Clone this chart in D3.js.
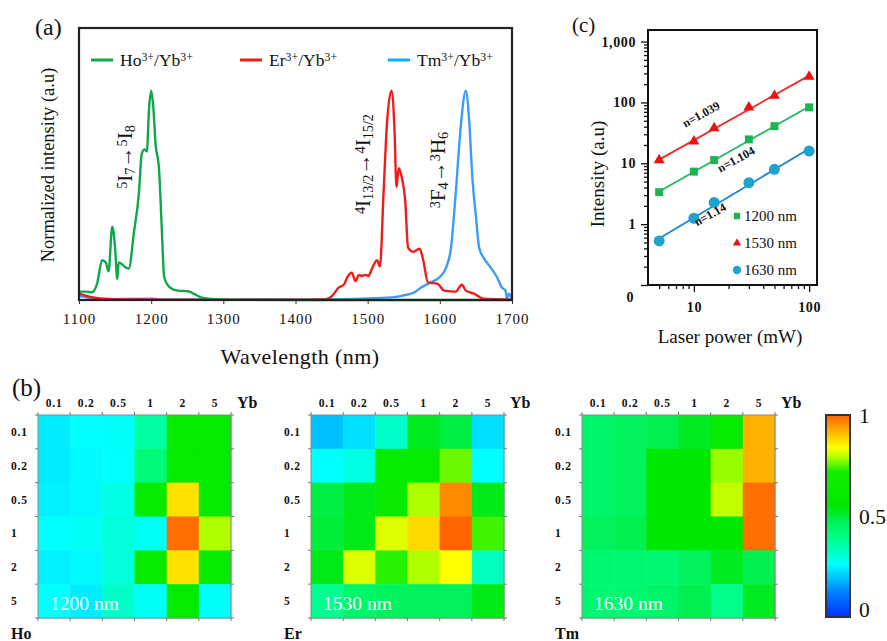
<!DOCTYPE html>
<html>
<head>
<meta charset="utf-8">
<script src="https://cdn.jsdelivr.net/npm/d3@7"></script>
<style>
  body { margin: 0; background: #fff; }
  svg text { font-family: "Liberation Serif", "DejaVu Serif", serif; fill: #111; }
</style>
</head>
<body>
<svg width="887" height="641"></svg>
<script>
"use strict";
var FONT = '"Liberation Serif", "DejaVu Serif", serif';
// ---- data: (a) spectra, [wavelength nm, normalized intensity]
var wlTicks = [1100, 1200, 1300, 1400, 1500, 1600, 1700];
var hoSpectrum = [[1100,0.04],[1110,0.04],[1118,0.037],[1125,0.077],[1132,0.19],[1137,0.18],[1141,0.137],
  [1146,0.35],[1150,0.25],[1153,0.10],[1155,0.18],[1160,0.17],[1164,0.156],[1169,0.15],[1176,0.32],
  [1183,0.51],[1187,0.70],[1191,0.72],[1194,0.71],[1197,0.91],[1200,1.0],[1203,0.92],[1206,0.75],
  [1211,0.62],[1214.6,0.35],[1218,0.11],[1226,0.06],[1237,0.045],[1251,0.042],[1258,0.032],
  [1269,0.013],[1283,0.005],[1301,0.001],[1400,0],[1500,0],[1600,0],[1700,0]];
var erSpectrum = [[1100,0.03],[1115,0.015],[1130,0.007],[1150,0.003],[1200,0.002],[1300,0.001],[1400,0.001],
  [1442,0.004],[1451,0.02],[1460,0.06],[1467,0.073],[1472,0.11],[1478,0.13],[1483,0.09],[1488,0.12],
  [1492,0.115],[1497,0.12],[1501,0.115],[1506,0.15],[1513,0.19],[1517,0.16],[1522,0.51],[1526.5,0.83],
  [1533,1.0],[1537,0.83],[1540,0.54],[1543,0.63],[1547,0.59],[1552,0.475],[1556,0.25],[1563,0.23],
  [1572,0.245],[1577,0.19],[1583.5,0.084],[1597,0.077],[1606,0.045],[1622,0.04],[1630.5,0.073],
  [1636,0.045],[1647.5,0.03],[1661,0.006],[1700,0.002]];
var tmSpectrum = [[1100,0.02],[1115,0.01],[1130,0.004],[1200,0.006],[1210,0.003],[1300,0.002],[1442,0.003],
  [1520,0.01],[1547,0.02],[1565,0.037],[1574,0.06],[1588,0.085],[1600,0.11],[1609,0.157],[1615.5,0.25],
  [1622,0.51],[1629,0.83],[1636,1.0],[1640.6,0.86],[1645,0.59],[1650,0.40],[1654.5,0.25],[1661,0.2],
  [1670,0.157],[1679,0.11],[1686,0.06],[1691,0.045],[1693,0.005],[1695.5,0.03],[1700,0.0]];

// ---- data: (c) power dependence
var powers = [5, 10, 15, 30, 50, 100];
var int1200 = [3.35, 7.3, 11.3, 24.7, 40.8, 83];
var int1530 = [11.3, 23, 38, 83, 129, 267];
var int1630 = [0.53, 1.25, 2.27, 4.8, 7.96, 15.9];
var slopeLabels = ['n=1.104', 'n=1.039', 'n=1.14'];

// ---- data: (b) normalized intensity maps, rows = host ion %, cols = Yb %
var concLabels = ['0.1', '0.2', '0.5', '1', '2', '5'];
var hoMap = [
  [0.24, 0.26, 0.265, 0.36, 0.60, 0.60],
  [0.24, 0.255, 0.26, 0.42, 0.60, 0.60],
  [0.245, 0.255, 0.29, 0.60, 0.87, 0.60],
  [0.26, 0.27, 0.30, 0.27, 0.99, 0.79],
  [0.245, 0.255, 0.30, 0.60, 0.87, 0.60],
  [0.26, 0.24, 0.32, 0.27, 0.60, 0.265]];
var erMap = [
  [0.19, 0.225, 0.32, 0.52, 0.49, 0.225],
  [0.26, 0.29, 0.60, 0.60, 0.76, 0.26],
  [0.49, 0.53, 0.62, 0.79, 0.96, 0.53],
  [0.50, 0.53, 0.82, 0.88, 1.00, 0.74],
  [0.53, 0.82, 0.73, 0.79, 0.84, 0.33],
  [0.38, 0.44, 0.46, 0.46, 0.46, 0.53]];
var tmMap = [
  [0.44, 0.46, 0.48, 0.52, 0.60, 0.92],
  [0.44, 0.46, 0.55, 0.55, 0.78, 0.92],
  [0.44, 0.46, 0.55, 0.55, 0.80, 0.99],
  [0.46, 0.48, 0.55, 0.55, 0.55, 0.99],
  [0.43, 0.43, 0.43, 0.46, 0.52, 0.48],
  [0.43, 0.43, 0.44, 0.48, 0.39, 0.52]];
var cbTicks = [0, 0.5, 1];
var cStops = [0, 0.12, 0.26, 0.38, 0.48, 0.55, 0.72, 0.79, 0.84, 0.92, 1];
var cColors = ['#0030ff', '#0080ff', '#00ffff', '#00ff90', '#00f050', '#00e800', '#10ee00',
  '#b0ff00', '#ffff00', '#ffb000', '#ff6400'];

var svg = d3.select('svg');

// rich text helper: parts = [[text, 'sup'|'sub'|null], ...]
function rich(sel, parts) {
  parts.forEach(function (p) {
    var t = sel.append('tspan').text(p[0]);
    if (p[1]) {
      t.attr('baseline-shift', p[1] === 'sup' ? '38%' : '-22%')
        .attr('font-size', '68%');
    }
  });
  return sel;
}

// ================= (a) =================
var xA = d3.scaleLinear().domain([1100, 1700]).range([79, 512]);
var yA = d3.scaleLinear().domain([0, 1.3]).range([300, 28]);
var gA = svg.append('g');

gA.append('g')
  .attr('transform', 'translate(0,300)')
  .call(d3.axisBottom(xA).tickValues(wlTicks).tickSize(4).tickPadding(9).tickFormat(d3.format('d')))
  .call(function (g) {
    g.attr('font-family', FONT);
    g.select('.domain').remove();
    g.selectAll('text').attr('font-size', 15).attr('letter-spacing', 1).attr('fill', '#111');
    g.selectAll('line').attr('stroke', '#333');
  });

var lineA = d3.line().x(function (d) { return xA(d[0]); }).y(function (d) { return yA(d[1]); })
  .curve(d3.curveMonotoneX);
var spectra = [
  { name: 'Tm', data: tmSpectrum, color: '#3d9cf5' },
  { name: 'Er', data: erSpectrum, color: '#ee1c1c' },
  { name: 'Ho', data: hoSpectrum, color: '#10a64a' }
];
gA.selectAll('path.spec').data(spectra).enter().append('path')
  .attr('class', 'spec')
  .attr('d', function (d) { return lineA(d.data); })
  .attr('fill', 'none')
  .attr('stroke', function (d) { return d.color; })
  .attr('stroke-width', 2.4);

gA.append('rect')
  .attr('x', 79).attr('y', 28).attr('width', 433).attr('height', 272)
  .attr('fill', 'none').attr('stroke', '#222').attr('stroke-width', 2.2);

// legend
var legendA = [
  { name: 'Ho', color: '#10a64a', x: 91 },
  { name: 'Er', color: '#ee1c1c', x: 240 },
  { name: 'Tm', color: '#0db0f0', x: 388 }
];
var lg = gA.selectAll('g.leg').data(legendA).enter().append('g')
  .attr('transform', function (d) { return 'translate(' + d.x + ',60)'; });
lg.append('line').attr('x1', 0).attr('x2', 22).attr('stroke', function (d) { return d.color; })
  .attr('stroke-width', 3);
lg.append('text').attr('x', 29).attr('y', 6).attr('font-size', 17.5)
  .each(function (d) {
    rich(d3.select(this), [[d.name, null], ['3+', 'sup'], ['/Yb', null], ['3+', 'sup']]);
  });

// transition labels
var transitions = [
  { x: 132, y: 157, parts: [['5', 'sup'], ['I', null], ['7', 'sub'], ['\u2192', null], ['5', 'sup'], ['I', null], ['8', 'sub']] },
  { x: 370, y: 164, parts: [['4', 'sup'], ['I', null], ['13/2', 'sub'], ['\u2192', null], ['4', 'sup'], ['I', null], ['15/2', 'sub']] },
  { x: 445, y: 170, parts: [['3', 'sup'], ['F', null], ['4', 'sub'], ['\u2192', null], ['3', 'sup'], ['H', null], ['6', 'sub']] }
];
transitions.forEach(function (t) {
  rich(gA.append('text')
    .attr('transform', 'translate(' + t.x + ',' + t.y + ') rotate(-90)')
    .attr('text-anchor', 'middle').attr('font-size', 21), t.parts);
});

gA.append('text').attr('x', 300).attr('y', 364).attr('text-anchor', 'middle')
  .attr('font-size', 22).attr('letter-spacing', 0.4).text('Wavelength (nm)');
gA.append('text').attr('transform', 'translate(54,165) rotate(-90)').attr('text-anchor', 'middle')
  .attr('font-size', 18.5).text('Normalized intensity (a.u)');
gA.append('text').attr('x', 35).attr('y', 35).attr('font-size', 24).text('(a)');

// ================= (c) =================
var xC = d3.scaleLog().domain([4, 117]).range([648, 817]);
var yC = d3.scaleLog().domain([0.1, 1550]).range([285, 30]);
var gC = svg.append('g');

var xMinor = [5, 6, 7, 8, 9, 20, 30, 40, 50, 60, 70, 80, 90];
var yMinor = [];
[0.1, 1, 10, 100].forEach(function (dec) {
  for (var k = 2; k <= 9; k++) yMinor.push(dec * k);
});
function styleAxis(g) {
  g.attr('font-family', FONT);
  g.select('.domain').remove();
  g.selectAll('line').attr('stroke', '#111').attr('stroke-width', 1.3);
  g.selectAll('text').attr('font-size', 14).attr('font-weight', 'bold').attr('fill', '#111')
    .attr('letter-spacing', 0.6);
}
gC.append('g').attr('transform', 'translate(0,285)')
  .call(d3.axisBottom(xC).tickValues(xMinor).tickSize(4).tickFormat(''))
  .call(styleAxis);
gC.append('g').attr('transform', 'translate(0,285)')
  .call(d3.axisBottom(xC).tickValues([10, 100]).tickSize(7).tickPadding(10).tickFormat(d3.format('d')))
  .call(styleAxis);
gC.append('g').attr('transform', 'translate(648,0)')
  .call(d3.axisLeft(yC).tickValues(yMinor).tickSize(4).tickFormat(''))
  .call(styleAxis);
gC.append('g').attr('transform', 'translate(648,0)')
  .call(d3.axisLeft(yC).tickValues([1, 10, 100, 1000]).tickSize(7).tickPadding(5).tickFormat(d3.format(',')))
  .call(styleAxis);
gC.append('g').attr('transform', 'translate(648,0)')
  .call(d3.axisLeft(yC).tickValues([0.1]).tickSize(7).tickFormat(''))
  .call(styleAxis);
gC.append('text').attr('x', xC(4) - 18).attr('y', yC(0.1) + 17).attr('text-anchor', 'middle')
  .attr('font-size', 14).attr('font-weight', 'bold').text('0');

var seriesC = [
  { values: int1200, line: '#1fba5a', fill: '#1db350', shape: d3.symbolSquare, size: 64, label: slopeLabels[0], lab: [738, 163] },
  { values: int1530, line: '#f02a2a', fill: '#ee1111', shape: d3.symbolTriangle, size: 52, label: slopeLabels[1], lab: [703, 118] },
  { values: int1630, line: '#1a84d6', fill: '#1ea3cc', shape: d3.symbolCircle, size: 95, label: slopeLabels[2], lab: [712, 218] }
];
// least-squares fit in log-log space
function fit(vals) {
  var lx = powers.map(Math.log10), ly = vals.map(Math.log10);
  var mx = d3.mean(lx), my = d3.mean(ly);
  var b = d3.sum(lx, function (v, i) { return (v - mx) * (ly[i] - my); }) /
          d3.sum(lx, function (v) { return (v - mx) * (v - mx); });
  return function (p) { return Math.pow(10, my + b * (Math.log10(p) - mx)); };
}
seriesC.forEach(function (s) {
  var f = fit(s.values);
  gC.append('line')
    .attr('x1', xC(powers[0])).attr('y1', yC(f(powers[0])))
    .attr('x2', xC(powers[powers.length - 1])).attr('y2', yC(f(powers[powers.length - 1])))
    .attr('stroke', s.line).attr('stroke-width', 1.8);
  gC.selectAll(null).data(s.values).enter().append('path')
    .attr('d', d3.symbol().type(s.shape).size(s.size))
    .attr('transform', function (d, i) { return 'translate(' + xC(powers[i]) + ',' + yC(d) + ')'; })
    .attr('fill', s.fill);
  gC.append('text')
    .attr('transform', 'translate(' + s.lab[0] + ',' + s.lab[1] + ') rotate(-29)')
    .attr('text-anchor', 'middle').attr('font-size', 12).attr('font-weight', 'bold').attr('fill', '#333')
    .text(s.label);
});

gC.append('rect')
  .attr('x', 648).attr('y', 30).attr('width', 169).attr('height', 255)
  .attr('fill', 'none').attr('stroke', '#111').attr('stroke-width', 2);

var legendC = [
  { text: '1200 nm', fill: '#1db350', shape: d3.symbolSquare, size: 40 },
  { text: '1530 nm', fill: '#ee1111', shape: d3.symbolTriangle, size: 30 },
  { text: '1630 nm', fill: '#1ea3cc', shape: d3.symbolCircle, size: 55 }
];
var lgc = gC.selectAll('g.legc').data(legendC).enter().append('g')
  .attr('transform', function (d, i) { return 'translate(737,' + (216 + i * 27) + ')'; });
lgc.append('path').attr('d', function (d) { return d3.symbol().type(d.shape).size(d.size)(); })
  .attr('fill', function (d) { return d.fill; });
lgc.append('text').attr('x', 7).attr('y', 5).attr('font-size', 15).text(function (d) { return d.text; });

gC.append('text').attr('transform', 'translate(604,174) rotate(-90)').attr('text-anchor', 'middle')
  .attr('font-size', 19).text('Intensity (a.u)');
gC.append('text').attr('x', 730).attr('y', 343).attr('text-anchor', 'middle')
  .attr('font-size', 19).text('Laser power (mW)');
gC.append('text').attr('x', 572).attr('y', 32).attr('font-size', 21).text('(c)');

// ================= (b) =================
var color = d3.scaleLinear().domain(cStops).range(cColors);
var maps = [
  { host: 'Ho', values: hoMap, note: '1200 nm', x0: 38 },
  { host: 'Er', values: erMap, note: '1530 nm', x0: 311 },
  { host: 'Tm', values: tmMap, note: '1630 nm', x0: 582 }
];
var mapW = 193, mapTop = 415, mapBottom = 618;

svg.append('text').attr('x', 12).attr('y', 396).attr('font-size', 25).text('(b)');

maps.forEach(function (m) {
  var xH = d3.scaleBand().domain(concLabels).range([m.x0, m.x0 + mapW]);
  var yH = d3.scaleBand().domain(concLabels).range([mapTop, mapBottom]);
  var g = svg.append('g');
  m.values.forEach(function (row, r) {
    g.selectAll(null).data(row).enter().append('rect')
      .attr('x', function (d, c) { return xH(concLabels[c]); })
      .attr('y', yH(concLabels[r]))
      .attr('width', xH.bandwidth() + 0.5)
      .attr('height', yH.bandwidth() + 0.5)
      .attr('fill', function (d) { return color(d); });
  });
  g.append('rect').attr('x', m.x0).attr('y', mapTop).attr('width', mapW).attr('height', mapBottom - mapTop)
    .attr('fill', 'none').attr('stroke', '#888').attr('stroke-width', 1);
  // boundary ticks on all four sides
  var xb = d3.range(concLabels.length + 1).map(function (i) { return m.x0 + i * xH.step(); });
  var yb = d3.range(concLabels.length + 1).map(function (i) { return mapTop + i * yH.step(); });
  g.selectAll(null).data(xb).enter().append('path')
    .attr('d', function (d) { return 'M' + d + ',' + (mapTop - 3) + 'V' + mapTop + 'M' + d + ',' + mapBottom + 'V' + (mapBottom + 3); })
    .attr('stroke', '#777');
  g.selectAll(null).data(yb).enter().append('path')
    .attr('d', function (d) { return 'M' + (m.x0 - 3) + ',' + d + 'H' + m.x0 + 'M' + (m.x0 + mapW) + ',' + d + 'H' + (m.x0 + mapW + 3); })
    .attr('stroke', '#777');
  g.selectAll(null).data(concLabels).enter().append('text')
    .attr('x', function (d) { return xH(d) + xH.bandwidth() / 2; })
    .attr('y', 407).attr('text-anchor', 'middle')
    .attr('font-size', 11.5).attr('font-weight', 'bold').attr('letter-spacing', 0.8).attr('fill', '#222')
    .text(function (d) { return d; });
  g.selectAll(null).data(concLabels).enter().append('text')
    .attr('x', m.x0 - 27)
    .attr('y', function (d) { return yH(d) + yH.bandwidth() / 2 + 4; })
    .attr('font-size', 11.5).attr('font-weight', 'bold').attr('letter-spacing', 0.8).attr('fill', '#222')
    .text(function (d) { return d; });
  g.append('text').attr('x', m.x0 + mapW + 6).attr('y', 408).attr('font-size', 16).attr('font-weight', 'bold').text('Yb');
  g.append('text').attr('x', m.x0 - 27).attr('y', 639).attr('font-size', 16).attr('font-weight', 'bold').text(m.host);
  g.append('text').attr('x', m.x0 + 12).attr('y', 610).attr('font-size', 19.5).style('fill', '#fff').text(m.note);
});

// colour bar
var cScale = d3.scaleLinear().domain([0, 1]).range([617, 415]);
var grad = svg.append('defs').append('linearGradient').attr('id', 'cbar')
  .attr('x1', 0).attr('y1', 1).attr('x2', 0).attr('y2', 0);
grad.selectAll('stop').data(cStops).enter().append('stop')
  .attr('offset', function (d) { return d; })
  .attr('stop-color', function (d) { return color(d); });
svg.append('rect').attr('x', 826).attr('y', cScale(1)).attr('width', 24).attr('height', cScale(0) - cScale(1))
  .attr('fill', 'url(#cbar)').attr('stroke', '#333').attr('stroke-width', 2);
svg.selectAll('text.cb').data(cbTicks).enter().append('text')
  .attr('class', 'cb')
  .attr('x', 859)
  .attr('y', function (d) { return Math.min(cScale(d), 609) + 8; })
  .attr('font-size', 21.5).text(function (d) { return d; });
</script>
</body>
</html>
